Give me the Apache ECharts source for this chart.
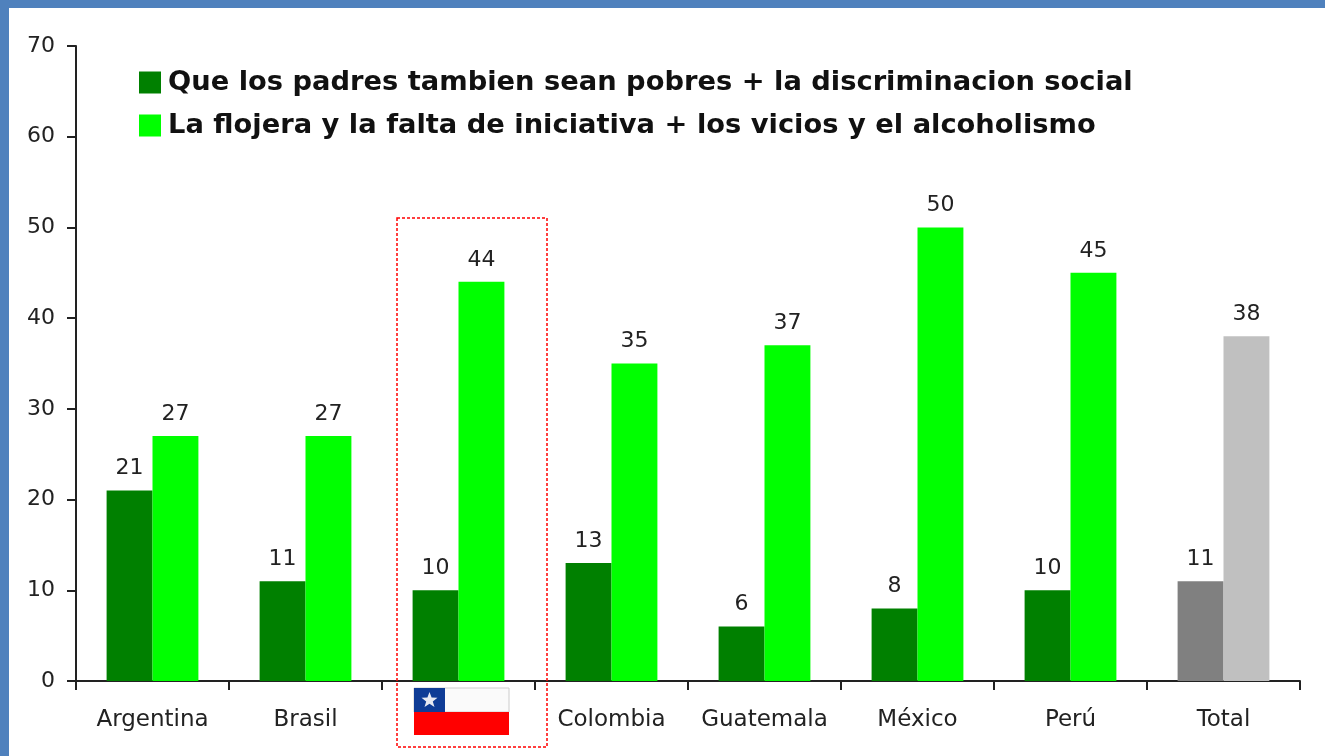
<!DOCTYPE html>
<html>
<head>
<meta charset="utf-8">
<title>Chart</title>
<script src="https://cdn.jsdelivr.net/npm/echarts@6/dist/echarts.min.js"></script>
<style>
html, body { margin: 0; padding: 0; background: #fff; }
#chart { width: 1325px; height: 756px; }
</style>
</head>
<body>
<div id="chart"></div>
<script>
var categories = ['Argentina', 'Brasil', 'Chile', 'Colombia', 'Guatemala', 'México', 'Perú', 'Total'];
var padresPobres = [21, 11, 10, 13, 6, 8, 10, 11];
var flojera = [27, 27, 44, 35, 37, 50, 45, 38];
var yTicks = { min: 0, max: 70, interval: 10 };

var nombrePadres = 'Que los padres tambien sean pobres + la discriminacion social';
var nombreFlojera = 'La flojera y la falta de iniciativa + los vicios y el alcoholismo';

var font = 'Tahoma, "DejaVu Sans", sans-serif';
var textColor = '#222';

var myChart = echarts.init(document.getElementById('chart'));

// la barra "Total" va en gris
function barData(values, totalColor) {
    return values.map(function (v, i) {
        if (categories[i] == 'Total') {
            return { value: v, itemStyle: { color: totalColor } };
        }
        return v;
    });
}

function barSeries(name, values, color, totalColor) {
    return {
        name: name,
        type: 'bar',
        barWidth: '30%',
        barGap: 0,
        itemStyle: { color: color },
        label: {
            show: true,
            position: 'top',
            distance: 11,
            fontFamily: font,
            fontSize: 22,
            color: textColor
        },
        data: barData(values, totalColor)
    };
}

var option = {
    backgroundColor: '#fff',
    animation: false,
    grid: { left: 76, right: 25, top: 46, bottom: 75, containLabel: false },
    legend: {
        orient: 'vertical',
        left: 134,
        top: 64,
        icon: 'rect',
        itemWidth: 22,
        itemHeight: 22,
        itemGap: 16,
        selectedMode: false,
        textStyle: {
            fontFamily: font,
            fontWeight: 'bold',
            fontSize: 27.3,
            lineHeight: 22,
            padding: [0, 0, 0, 2],
            color: '#111'
        },
        data: [nombrePadres, nombreFlojera]
    },
    xAxis: {
        type: 'category',
        data: categories,
        axisLine: { lineStyle: { color: textColor, width: 2 } },
        axisTick: { show: true, alignWithLabel: false, length: 9, lineStyle: { color: textColor, width: 2 } },
        axisLabel: {
            margin: 28,
            fontFamily: font,
            fontSize: 23,
            color: textColor,
            interval: 0,
            // Chile se muestra con la bandera
            formatter: function (value) {
                return value == 'Chile' ? '' : value;
            }
        }
    },
    yAxis: {
        type: 'value',
        min: yTicks.min,
        max: yTicks.max,
        interval: yTicks.interval,
        splitLine: { show: false },
        axisLine: { show: true, lineStyle: { color: textColor, width: 2 } },
        axisTick: { show: true, length: 9, lineStyle: { color: textColor, width: 2 } },
        axisLabel: { margin: 21, padding: [4, 0, 0, 0], fontFamily: font, fontSize: 22, color: textColor }
    },
    series: [
        barSeries(nombrePadres, padresPobres, '#008000', '#808080'),
        barSeries(nombreFlojera, flojera, '#00ff00', '#c0c0c0')
    ],
    graphic: [
        // marco azul
        { type: 'rect', silent: true, shape: { x: 0, y: 0, width: 1325, height: 8 }, style: { fill: '#4f81bd' } },
        { type: 'rect', silent: true, shape: { x: 0, y: 0, width: 9, height: 756 }, style: { fill: '#4f81bd' } },
        // recuadro de Chile
        {
            type: 'rect', silent: true, z: 10,
            shape: { x: 397, y: 218, width: 150, height: 529 },
            style: { fill: 'none', stroke: '#ff0000', lineWidth: 1.5, lineDash: [3, 2] }
        },
        // bandera
        {
            type: 'group', silent: true, x: 414, y: 688,
            children: [
                { type: 'rect', shape: { x: 0, y: 0, width: 95, height: 24 }, style: { fill: '#fafafa', stroke: '#ccc', lineWidth: 1 } },
                { type: 'rect', shape: { x: 0, y: 24, width: 95, height: 23 }, style: { fill: '#ff0000' } },
                { type: 'rect', shape: { x: 0, y: 0, width: 31, height: 24 }, style: { fill: '#0f3c96' } },
                {
                    type: 'polygon',
                    shape: { points: [[15.5, 4], [17.6, 9.6], [23.5, 9.8], [18.8, 13.4], [20.5, 19], [15.5, 15.8], [10.5, 19], [12.2, 13.4], [7.5, 9.8], [13.4, 9.6]] },
                    style: { fill: '#e8eaf2' }
                }
            ]
        }
    ]
};

myChart.setOption(option);
</script>
</body>
</html>
